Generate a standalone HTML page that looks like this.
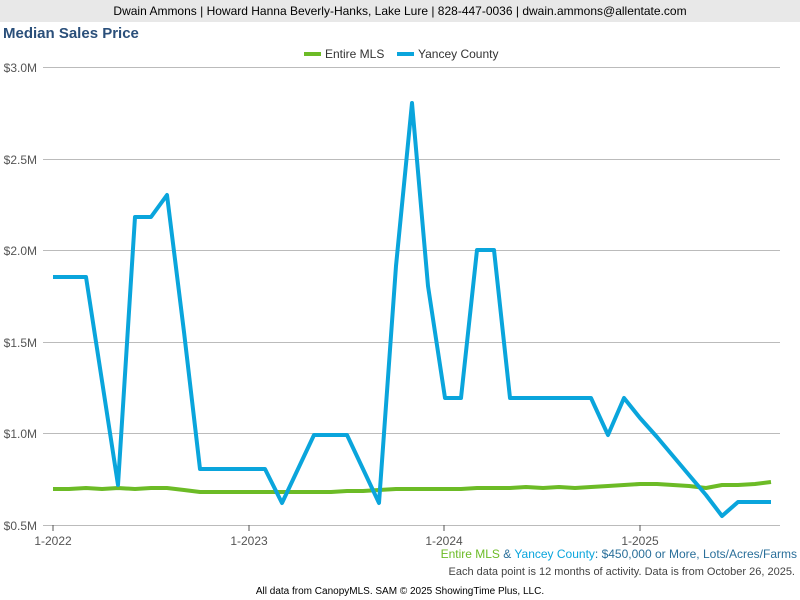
<!DOCTYPE html>
<html><head><meta charset="utf-8"><style>
body{margin:0;width:800px;height:600px;background:#fff;font-family:"Liberation Sans",sans-serif;position:relative;overflow:hidden}
.hdr{position:absolute;left:0;top:0;width:800px;height:22px;background:#e8e8e8;font-size:12px;text-align:center;line-height:22px;color:#000}
.t{position:absolute;left:3px;top:25px;font-size:15px;font-weight:bold;color:#2a4f7a}
</style></head><body>
<div class="hdr">Dwain Ammons | Howard Hanna Beverly-Hanks, Lake Lure | 828-447-0036 | dwain.ammons@allentate.com</div>
<div class="t">Median Sales Price</div>
<svg width="800" height="600" style="position:absolute;left:0;top:0" font-family="Liberation Sans, sans-serif">
<g stroke="#bbb" stroke-width="1">
<line x1="43" y1="67.5" x2="780" y2="67.5"/><line x1="43" y1="159.5" x2="780" y2="159.5"/><line x1="43" y1="250.5" x2="780" y2="250.5"/><line x1="43" y1="342.5" x2="780" y2="342.5"/><line x1="43" y1="433.5" x2="780" y2="433.5"/><line x1="43" y1="525.5" x2="780" y2="525.5"/>
</g>
<g stroke="#555"><line x1="53" y1="525" x2="53" y2="531"/><line x1="249" y1="525" x2="249" y2="531"/><line x1="444" y1="525" x2="444" y2="531"/><line x1="640" y1="525" x2="640" y2="531"/></g>
<g font-size="12" fill="#555" text-anchor="end">
<text x="37" y="72">$3.0M</text><text x="37" y="164">$2.5M</text><text x="37" y="255">$2.0M</text><text x="37" y="347">$1.5M</text><text x="37" y="438">$1.0M</text><text x="37" y="530">$0.5M</text>
</g>
<g font-size="12" fill="#555" text-anchor="middle">
<text x="53" y="545">1-2022</text><text x="249" y="545">1-2023</text><text x="444" y="545">1-2024</text><text x="640" y="545">1-2025</text>
</g>
<line x1="304" y1="54" x2="321" y2="54" stroke="#6cbb26" stroke-width="4"/>
<text x="325" y="58" font-size="12" fill="#333">Entire MLS</text>
<line x1="397" y1="54" x2="414" y2="54" stroke="#0aa5dc" stroke-width="4"/>
<text x="418" y="58" font-size="12" fill="#333">Yancey County</text>
<polyline fill="none" stroke="#6cbb26" stroke-width="4" stroke-linejoin="round" points="53,489 69,489 86,488 102,489 118,488 135,489 151,488 167,488 184,490 200,492 216,492 233,492 249,492 265,492 282,492 298,492 314,492 331,492 347,491 363,491 379,490 396,489 412,489 428,489 445,489 461,489 477,488 494,488 510,488 526,487 543,488 559,487 575,488 591,487 608,486 624,485 640,484 657,484 673,485 689,486 706,488 722,485 738,485 755,484 771,482"/>
<polyline fill="none" stroke="#0aa5dc" stroke-width="4" stroke-linejoin="round" points="53,277 69,277 86,277 102,381 118,485 135,217 151,217 167,195 184,332 200,469 216,469 233,469 249,469 265,469 282,503 298,469 314,435 331,435 347,435 363,469 379,503 396,266 412,103 428,286 445,398 461,398 477,250 494,250 510,398 526,398 543,398 559,398 575,398 591,398 608,435 624,398 640,418 657,437 673,456 689,475 706,495 722,516 738,502 755,502 771,502"/>
<text x="797" y="558" font-size="12" text-anchor="end"><tspan fill="#6cbb26">Entire MLS</tspan><tspan fill="#2a6f9a"> &amp; </tspan><tspan fill="#0aa5dc">Yancey County</tspan><tspan fill="#2a6f9a">: $450,000 or More, Lots/Acres/Farms</tspan></text>
<text x="795" y="575" font-size="11" fill="#444" text-anchor="end">Each data point is 12 months of activity. Data is from October 26, 2025.</text>
<text x="400" y="594" font-size="10" fill="#000" text-anchor="middle">All data from CanopyMLS. SAM © 2025 ShowingTime Plus, LLC.</text>
</svg>
</body></html>
